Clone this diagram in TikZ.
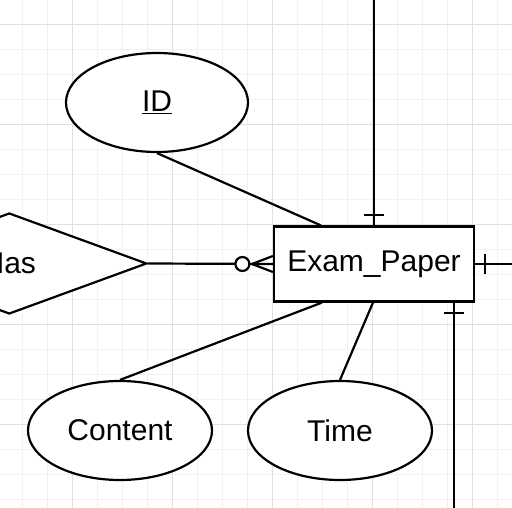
\documentclass[tikz,border=0pt]{standalone}
\usepackage{fontspec}
\setmainfont{Liberation Sans}
\usetikzlibrary{shapes.geometric}
\definecolor{gridminor}{RGB}{241,241,241}
\definecolor{gridmajor}{RGB}{224,224,224}
\begin{document}
\begin{tikzpicture}[x=1pt,y=-1pt, line width=2.2pt,
  ent/.style={draw, rectangle, minimum width=200pt, minimum height=75pt, inner sep=0pt, fill=white},
  attr/.style={draw, ellipse, minimum width=184pt, minimum height=99pt, inner sep=0pt, fill=white},
  rel/.style={draw, diamond, minimum width=275pt, minimum height=101pt, inner sep=0pt, fill=white},
  conn/.style={draw, line width=2.2pt, line cap=butt},
  lbl/.style={font=\fontsize{30}{35}\selectfont}]
\useasboundingbox (0,0) rectangle (512,508);
\fill[white] (0,0) rectangle (512,508);
% grid
\foreach \i in {0,...,21} {
  \draw[gridminor, line width=1pt] ({-2.3+25*\i},0) -- ({-2.3+25*\i},508);
  \draw[gridminor, line width=1pt] (0,{-0.5+25*\i}) -- (512,{-0.5+25*\i});
}
\foreach \i in {0,...,4} {
  \draw[gridmajor, line width=1pt] ({72.7+100*\i},0) -- ({72.7+100*\i},508);
}
\foreach \i in {0,...,5} {
  \draw[gridmajor, line width=1pt] (0,{24.5+100*\i}) -- (512,{24.5+100*\i});
}
% nodes
\node[ent, lbl] (paper) at (374,264) {Exam\_Paper};
\node[attr, lbl, minimum width=182pt] (id) at (157,102.5) {\underline{ID}};
\node[rel, lbl] (has) at (9.3,263.5) {Has};
\node[attr, lbl] (content) at (120,430.5) {Content};
\node[attr, lbl] (time) at (340,430.5) {Time};
% free ends
\coordinate (topend) at (374,-5);
\coordinate (rightend) at (520,264);
\coordinate (botend) at (454,515);
% connectors
\draw[conn] (id.south) -- ([xshift=48pt]paper.north west);
\draw[conn] (content.north) -- ([xshift=49pt]paper.south west);
\draw[conn] (time.north) -- ([xshift=-1pt]paper.south);
\draw[conn] (topend) -- (paper.north);
\draw[conn] ([xshift=-10pt,yshift=10pt]paper.north) -- ++(20,0);
\draw[conn] (paper.east) -- (rightend);
\draw[conn] ([xshift=10pt,yshift=10pt]paper.east) -- ++(0,20);
\draw[conn] ([xshift=80pt]paper.south) -- (botend);
\draw[conn] ([xshift=70pt,yshift=-10.5pt]paper.south) -- ++(20,0);
\draw[conn] (has.east) -- (paper.west);
\draw[conn] ([xshift=-21pt]paper.west) -- ([yshift=8pt]paper.west);
\draw[conn] ([xshift=-21pt]paper.west) -- ([yshift=-8pt]paper.west);
\node[draw, circle, fill=white, minimum size=14pt, inner sep=0pt] (circ) at ([xshift=-30.5pt]paper.west) {};
\end{tikzpicture}
\end{document}
